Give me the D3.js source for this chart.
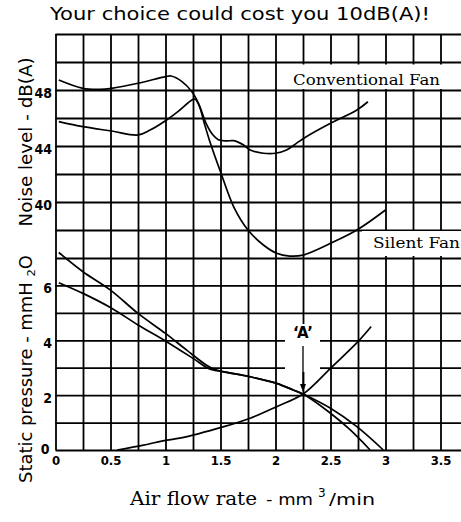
<!DOCTYPE html>
<html><head><meta charset="utf-8">
<script src="https://cdn.jsdelivr.net/npm/d3@7"></script>
<style>body{margin:0;background:#fff}svg{display:block}</style>
</head><body><svg id="c" width="461" height="522"></svg>
<script>
// ---- data ----
const titleText = "Your choice could cost you 10dB(A)!";
const flowGrid = [0,0.25,0.5,0.75,1,1.25,1.5,1.75,2,2.25,2.5,2.75,3,3.25,3.5,3.75];
const flowLabels = ["0","0.5","1","1.5","2","2.5","3","3.5"];
const flowLabelValues = [0,0.5,1,1.5,2,2.5,3,3.5];
const noiseGrid = [38,40,42,44,46,48,50,52];
const noiseLabelValues = [40,44,48];
const pressureGrid = [0,1,2,3,4,5,6,7];
const pressureLabelValues = [0,2,4,6];

const flowConv  = [0.03,0.25,0.40,0.51,0.75,1.0,1.05,1.15,1.24,1.30,1.37,1.43,1.48,1.55,1.62,1.71,1.77,1.89,2.0,2.10,2.19,2.28,2.5,2.74,2.84];
const noiseConv = [48.72,48.12,48.05,48.12,48.48,48.95,49.0,48.6,47.88,47.05,45.6,44.8,44.45,44.36,44.38,44.07,43.71,43.48,43.48,43.71,44.19,44.66,45.62,46.57,47.16];

const flowSilent  = [0.03,0.25,0.51,0.75,0.86,1.01,1.13,1.24,1.27,1.31,1.35,1.40,1.50,1.62,1.75,1.89,2.01,2.13,2.25,2.5,2.74,3.0];
const noiseSilent = [45.74,45.38,45.07,44.79,45.14,45.86,46.57,47.29,47.34,46.8,45.7,44.4,42.16,39.66,38.0,36.93,36.34,36.14,36.21,37.05,38.0,39.43];

const flowP1     = [0.03,0.25,0.5,0.75,1.0,1.19,1.37,1.45,1.53,1.77,2.01,2.16,2.25,2.5,2.68,2.86];
const pressureP1 = [7.2,6.5,5.83,4.98,4.25,3.65,3.1,2.93,2.85,2.67,2.43,2.19,2.04,1.34,0.73,0.0];

const flowP2     = [0.03,0.25,0.51,0.75,1.01,1.25,1.40,1.47,1.53,1.77,2.01,2.16,2.25,2.5,2.74,2.98];
const pressureP2 = [6.1,5.71,5.17,4.56,3.95,3.34,2.95,2.89,2.85,2.67,2.43,2.19,2.04,1.52,0.85,0.0];

const flowSys     = [0.56,0.8,1.01,1.13,1.53,1.77,2.01,2.25,2.5,2.75,2.87];
const pressureSys = [0.0,0.18,0.36,0.43,0.85,1.16,1.58,2.04,2.98,3.95,4.5];

// ---- layout ----
const pLeft = 55.5, pRight = 462, pTop = 34, pMid = 258, pBottom = 450;
const svg = d3.select("#c");
const x  = d3.scaleLinear().domain([0, 3.5]).range([pLeft, 440.5]);
const yN = d3.scaleLinear().domain([36, 52]).range([pMid, pTop]);
const yP = d3.scaleLinear().domain([0, 7]).range([pBottom, pMid]);

const tickFont = "'DejaVu Sans Condensed','Liberation Sans Narrow',sans-serif";

function styleAxis(g){
  g.select(".domain").remove();
  g.selectAll(".tick line").attr("stroke","#000").attr("stroke-width",1.8);
  g.selectAll(".tick text").attr("fill","#000").attr("font-family",tickFont)
   .attr("font-weight","bold").attr("font-stretch","condensed");
}

// vertical grid + x labels
const gx = svg.append("g").attr("transform",`translate(0,${pBottom})`)
  .call(d3.axisBottom(x).tickValues(flowGrid).tickSize(-(pBottom-pTop)).tickPadding(5)
    .tickFormat(d => { const i = flowLabelValues.indexOf(d); return i>=0 ? flowLabels[i] : ""; }));
styleAxis(gx);
gx.selectAll(".tick text").attr("font-size",13).attr("dy","0.8em");

// horizontal grid (noise) + labels
const gn = svg.append("g").attr("transform",`translate(${pLeft},0)`)
  .call(d3.axisLeft(yN).tickValues(noiseGrid).tickSize(-(pRight-pLeft)).tickPadding(3.5)
    .tickFormat(d => noiseLabelValues.includes(d) ? String(d) : ""));
styleAxis(gn);
gn.selectAll(".tick text").attr("font-size",14).attr("dy","0.5em");

// horizontal grid (pressure) + labels
const gp = svg.append("g").attr("transform",`translate(${pLeft},0)`)
  .call(d3.axisLeft(yP).tickValues(pressureGrid).tickSize(-(pRight-pLeft)).tickPadding(3.5)
    .tickFormat(d => pressureLabelValues.includes(d) ? String(d) : ""));
styleAxis(gp);
gp.selectAll(".tick text").attr("font-size",14).attr("dy","0.5em");
gp.selectAll(".tick text").filter(d => d===0).attr("dy","0.25em").attr("x",-6);

// white label boxes covering grid
svg.append("rect").attr("x",287).attr("y",64.5).attr("width",180).attr("height",24.5).attr("fill","#fff");
svg.append("rect").attr("x",362).attr("y",231).attr("width",105).attr("height",25).attr("fill","#fff");
svg.append("rect").attr("x",285).attr("y",324).attr("width",35).attr("height",48).attr("fill","#fff");

// curves
const line = (xs, ys, ys_scale) => d3.line().curve(d3.curveCatmullRom.alpha(0.5))
  .x((d,i)=>x(xs[i])).y((d,i)=>ys_scale(ys[i]))(xs);
const curves = [
  [flowConv, noiseConv, yN],
  [flowSilent, noiseSilent, yN],
  [flowP1, pressureP1, yP],
  [flowP2, pressureP2, yP],
  [flowSys, pressureSys, yP]
];
svg.append("g").selectAll("path").data(curves).join("path")
  .attr("d", d => line(d[0], d[1], d[2]))
  .attr("fill","none").attr("stroke","#000").attr("stroke-width",1.7);

// labels
svg.append("text").attr("x",293).attr("y",85).attr("font-family","'DejaVu Serif',serif")
  .attr("font-size",15).attr("textLength",147).attr("lengthAdjust","spacingAndGlyphs")
  .text("Conventional Fan");
svg.append("text").attr("x",373).attr("y",248).attr("font-family","'DejaVu Serif',serif")
  .attr("font-size",15).attr("textLength",87).attr("lengthAdjust","spacingAndGlyphs")
  .text("Silent Fan");

// 'A' annotation
svg.append("text").attr("x",x(2.25)).attr("y",338).attr("text-anchor","middle")
  .attr("font-family","'DejaVu Sans',sans-serif").attr("font-weight","bold").attr("font-size",15)
  .text("\u2018A\u2019");
svg.append("line").attr("x1",x(2.25)).attr("x2",x(2.25)).attr("y1",346).attr("y2",388)
  .attr("stroke","#000").attr("stroke-width",1.3);
const ax = x(2.25), ay = yP(2.04) - 2;
svg.append("path").attr("d",`M${ax-3},${ay-8}L${ax+3},${ay-8}L${ax},${ay}Z`).attr("fill","#000");

// title
svg.append("text").attr("x",50).attr("y",20).attr("font-family","'DejaVu Sans',sans-serif")
  .attr("font-size",18).attr("textLength",380).attr("lengthAdjust","spacingAndGlyphs")
  .text(titleText);

// y titles
svg.append("text").attr("transform","translate(32,142) rotate(-90)").attr("text-anchor","middle")
  .attr("font-family","'DejaVu Sans',sans-serif").attr("font-size",17)
  .attr("textLength",169).attr("lengthAdjust","spacingAndGlyphs")
  .text("Noise level - dB(A)");
const st = svg.append("text").attr("transform","translate(32,483) rotate(-90)")
  .attr("font-family","'DejaVu Sans',sans-serif").attr("font-size",17)
  .attr("textLength",228).attr("lengthAdjust","spacingAndGlyphs");
st.append("tspan").text("Static pressure - mmH ");
st.append("tspan").attr("font-size",11).attr("dy",3).text("2");
st.append("tspan").attr("dy",-3).text("O");

// x title
svg.append("text").attr("x",130).attr("y",505).attr("font-family","'DejaVu Serif',serif")
  .attr("font-size",19).attr("textLength",127).attr("lengthAdjust","spacingAndGlyphs")
  .text("Air flow rate");
svg.append("text").attr("x",266).attr("y",505).attr("font-family","'DejaVu Sans',sans-serif")
  .attr("font-size",15).attr("textLength",47).attr("lengthAdjust","spacingAndGlyphs").text("- mm");
svg.append("text").attr("x",318).attr("y",497).attr("font-family","'DejaVu Sans',sans-serif")
  .attr("font-size",12).text("3");
svg.append("text").attr("x",329).attr("y",505).attr("font-family","'DejaVu Sans',sans-serif")
  .attr("font-size",15).attr("textLength",46).attr("lengthAdjust","spacingAndGlyphs").text("/min");
</script></body></html>
